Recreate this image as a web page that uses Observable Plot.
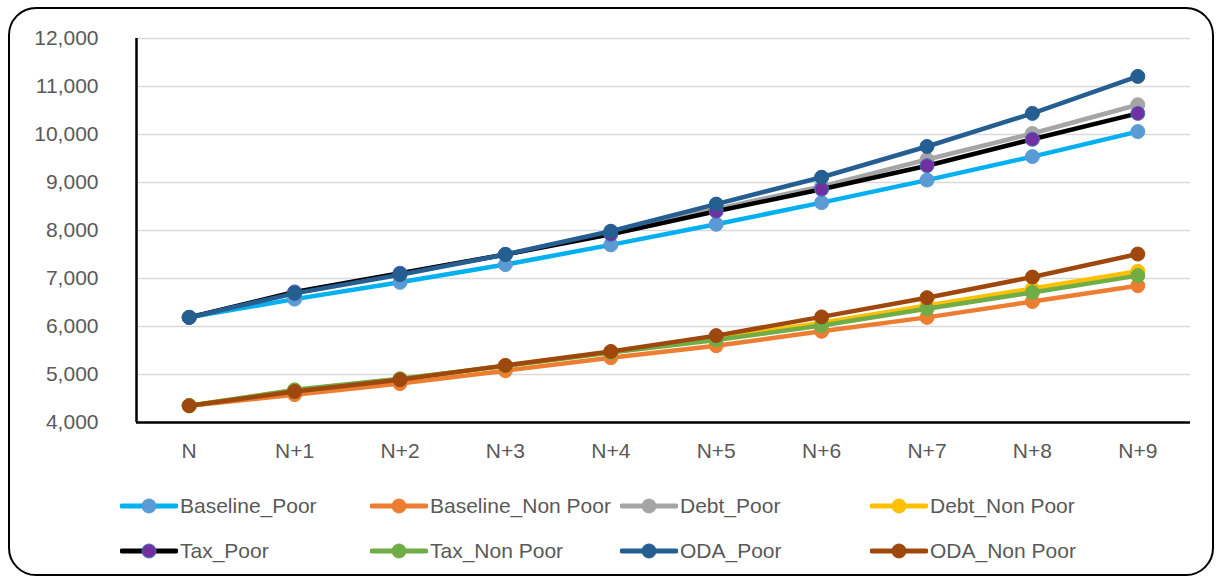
<!DOCTYPE html>
<html>
<head>
<meta charset="utf-8">
<script src="https://cdn.jsdelivr.net/npm/d3@7"></script>
<script src="https://cdn.jsdelivr.net/npm/@observablehq/plot@0.6"></script>
<style>
  html, body { margin: 0; padding: 0; background: #fff; }
  #wrap { position: relative; width: 1219px; height: 582px; overflow: hidden; font-family: "Liberation Sans", Arial, sans-serif; }
  #frame { position: absolute; left: 8px; top: 7px; width: 1206px; height: 569px; border: 2.5px solid #000; border-radius: 28px; box-sizing: border-box; }
  #chart { position: absolute; left: 0; top: 0; }
  #legend { position: absolute; left: 0; top: 0; width: 1219px; height: 582px; }
  .item { position: absolute; display: flex; align-items: center; height: 30px; color: #595959; font-size: 21px; white-space: nowrap; }
  .item svg { margin-right: 2px; }
</style>
</head>
<body>
<div id="wrap">
  <div id="frame"></div>
  <div id="chart"></div>
  <div id="legend"></div>
</div>
<script>
const categories = ["N", "N+1", "N+2", "N+3", "N+4", "N+5", "N+6", "N+7", "N+8", "N+9"];
const yTicks = [4000, 5000, 6000, 7000, 8000, 9000, 10000, 11000, 12000];

const seriesNames = ["Baseline_Poor", "Baseline_Non Poor", "Debt_Poor", "Debt_Non Poor", "Tax_Poor", "Tax_Non Poor", "ODA_Poor", "ODA_Non Poor"];
const baselinePoor    = [6190, 6570, 6920, 7290, 7700, 8130, 8580, 9050, 9540, 10060];
const baselineNonPoor = [4350, 4580, 4810, 5080, 5350, 5600, 5900, 6190, 6520, 6850];
const debtPoor        = [6190, 6700, 7100, 7500, 7960, 8450, 8920, 9480, 10020, 10620];
const debtNonPoor     = [4350, 4670, 4900, 5180, 5470, 5750, 6080, 6440, 6790, 7150];
const taxPoor         = [6190, 6720, 7110, 7500, 7920, 8400, 8860, 9350, 9900, 10440];
const taxNonPoor      = [4350, 4680, 4910, 5180, 5460, 5720, 6020, 6370, 6710, 7060];
const odaPoor         = [6190, 6690, 7080, 7500, 7985, 8550, 9110, 9750, 10440, 11210];
const odaNonPoor      = [4350, 4645, 4890, 5190, 5480, 5810, 6200, 6600, 7030, 7510];

const seriesValues = [baselinePoor, baselineNonPoor, debtPoor, debtNonPoor, taxPoor, taxNonPoor, odaPoor, odaNonPoor];
const lineColors   = ["#00B0F0", "#ED7D31", "#A5A5A5", "#FFC000", "#000000", "#70AD47", "#255E91", "#9E480E"];
const markerFill   = ["#5B9BD5", "#ED7D31", "#A5A5A5", "#FFC000", "#7030A0", "#70AD47", "#255E91", "#9E480E"];
const markerStroke = ["#5B9BD5", "#ED7D31", "#A5A5A5", "#FFC000", "#4472C4", "#70AD47", "#255E91", "#9E480E"];

const rows = [];
seriesNames.forEach((s, k) => seriesValues[k].forEach((v, i) => rows.push({series: s, k, i, value: v})));

const marks = [
  Plot.gridY(yTicks, {stroke: "#D9D9D9", strokeOpacity: 1, strokeWidth: 1.5}),
  Plot.axisY(yTicks, {tickSize: 0, tickPadding: 38, tickFormat: d3.format(","), fontSize: 21, fill: "#595959", label: null}),
  Plot.axisX(d3.range(categories.length), {tickSize: 0, tickPadding: 21, tickFormat: i => categories[i], fontSize: 21, fill: "#595959", label: null}),
  Plot.ruleY([yTicks[0]], {stroke: "#000", strokeWidth: 2.5}),
  Plot.ruleX([-0.5], {stroke: "#000", strokeWidth: 2.5})
];
seriesNames.forEach((s, k) => {
  const d = rows.filter(r => r.k === k);
  marks.push(Plot.line(d, {x: "i", y: "value", stroke: lineColors[k], strokeWidth: 4.5}));
  marks.push(Plot.dot(d, {x: "i", y: "value", r: 7, fill: markerFill[k], stroke: markerStroke[k], strokeWidth: 1}));
});

const chart = Plot.plot({
  width: 1219,
  height: 470,
  marginLeft: 136,
  marginRight: 29,
  marginTop: 38,
  marginBottom: 48,
  style: {fontFamily: "'Liberation Sans', Arial, sans-serif", background: "transparent", overflow: "visible"},
  x: {domain: [-0.5, categories.length - 0.5], axis: null},
  y: {domain: [yTicks[0], yTicks[yTicks.length - 1]], axis: null},
  marks
});
document.getElementById("chart").appendChild(chart);

// Legend
const legend = document.getElementById("legend");
const colX = [120, 370, 620, 870];
const rowY = [491, 536];
seriesNames.forEach((s, k) => {
  const div = document.createElement("div");
  div.className = "item";
  div.style.left = colX[k % 4] + "px";
  div.style.top = rowY[Math.floor(k / 4)] + "px";
  const ns = "http://www.w3.org/2000/svg";
  const svg = document.createElementNS(ns, "svg");
  svg.setAttribute("width", 58); svg.setAttribute("height", 16);
  const ln = document.createElementNS(ns, "line");
  ln.setAttribute("x1", 2); ln.setAttribute("x2", 56); ln.setAttribute("y1", 8); ln.setAttribute("y2", 8);
  ln.setAttribute("stroke", lineColors[k]); ln.setAttribute("stroke-width", 5); ln.setAttribute("stroke-linecap", "round");
  const c = document.createElementNS(ns, "circle");
  c.setAttribute("cx", 29); c.setAttribute("cy", 8); c.setAttribute("r", 7);
  c.setAttribute("fill", markerFill[k]); c.setAttribute("stroke", markerStroke[k]);
  svg.appendChild(ln); svg.appendChild(c);
  div.appendChild(svg);
  const t = document.createElement("span");
  t.textContent = s;
  div.appendChild(t);
  legend.appendChild(div);
});
</script>
</body>
</html>
